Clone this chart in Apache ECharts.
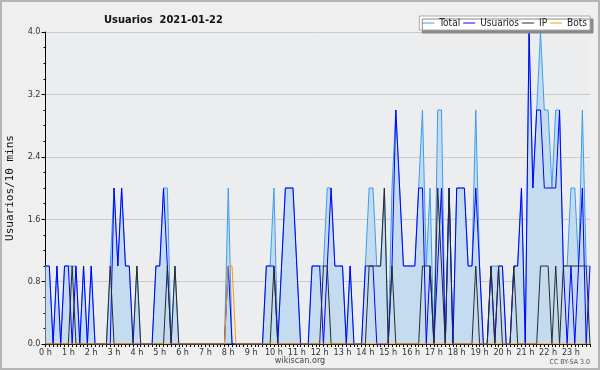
<!DOCTYPE html>
<html><head><meta charset="utf-8">
<script src="https://cdn.jsdelivr.net/npm/echarts@6/dist/echarts.min.js"></script>
<style>html,body{margin:0;padding:0;background:#efefef}#c{width:600px;height:370px}</style>
</head><body><div id="c"></div>
<script>
const hours = ["0 h","1 h","2 h","3 h","4 h","5 h","6 h","7 h","8 h","9 h","10 h","11 h","12 h","13 h","14 h","15 h","16 h","17 h","18 h","19 h","20 h","21 h","22 h","23 h"];
const yTicks = [0, 0.8, 1.6, 2.4, 3.2, 4.0];
const total = [
1,1,0,1,0,1,1,1,1,0,1,0,
1,0,0,0,0,1,2,1,2,1,1,0,
1,0,0,0,0,1,1,2,2,0,1,0,
0,0,0,0,0,0,0,0,0,0,0,0,
2,0,0,0,0,0,0,0,0,0,1,1,
2,0,1,2,2,2,1,0,0,0,1,1,
1,1,2,2,1,1,1,0,1,0,0,0,
1,2,2,1,1,2,0,2,3,2,1,1,
1,1,2,3,1,2,0,3,3,0,2,0,
2,2,2,1,1,3,1,0,0,1,1,1,
1,0,0,1,1,2,0,4,2,3,4,3,
3,2,3,3,1,1,2,2,1,3,1,1];
const usuarios = [
1,1,0,1,0,1,1,0,1,0,1,0,
1,0,0,0,0,0,2,1,2,1,1,0,
0,0,0,0,0,1,1,2,1,0,0,0,
0,0,0,0,0,0,0,0,0,0,0,0,
1,0,0,0,0,0,0,0,0,0,1,1,
1,0,1,2,2,2,1,0,0,0,1,1,
1,0,1,2,1,1,1,0,1,0,0,0,
1,1,1,0,0,0,0,1,3,2,1,1,
1,1,2,2,0,1,0,1,2,0,2,0,
2,2,2,1,1,2,1,0,0,1,0,1,
1,0,0,1,1,2,0,4,2,3,3,2,
2,2,2,3,1,0,1,0,1,2,0,1];
const ip = [
0,0,0,0,0,0,0,1,0,0,0,0,
0,0,0,0,0,1,0,0,0,0,0,0,
1,0,0,0,0,0,0,0,1,0,1,0,
0,0,0,0,0,0,0,0,0,0,0,0,
0,0,0,0,0,0,0,0,0,0,0,0,
1,0,0,0,0,0,0,0,0,0,0,0,
0,1,1,0,0,0,0,0,0,0,0,0,
0,1,1,1,1,2,0,1,0,0,0,0,
0,0,0,1,1,1,0,2,1,0,2,0,
0,0,0,0,0,1,0,0,0,1,0,1,
0,0,0,1,0,0,0,0,0,0,1,1,
1,0,1,0,1,1,1,1,1,1,1,0];
const bots = [
0,0,0,0,0,0,0,0,0,0,0,0,
0,0,0,0,0,0,0,0,0,0,0,0,
0,0,0,0,0,0,0,0,0,0,0,0,
0,0,0,0,0,0,0,0,0,0,0,0,
1,1,0,0,0,0,0,0,0,0,0,0,
0,0,0,0,0,0,0,0,0,0,0,0,
0,0,0,0,0,0,0,0,0,0,0,0,
0,0,0,0,0,0,0,0,0,0,0,0,
0,0,0,0,0,0,0,0,0,0,0,0,
0,0,0,0,0,0,0,0,0,0,0,0,
0,0,0,0,0,0,0,0,0,0,0,0,
0,0,0,0,0,0,0,0,0,0,0,0];

const slots = [];
hours.forEach((h, hi) => { for (let m = 0; m < 6; m++) slots.push(hi + ':' + m + '0'); });

const chart = echarts.init(document.getElementById('c'), null, {renderer: 'canvas'});
const COND = 'DejaVu Sans Condensed';
const lbl = {fontFamily: COND, fontSize: 9, color: '#333'};
function line(name, data, color, extra) {
  return Object.assign({
    name, type: 'line', data, symbol: 'none', smooth: false,
    lineStyle: {color, width: 1}, itemStyle: {color}, animation: false
  }, extra || {});
}
chart.setOption({
  backgroundColor: '#efefef',
  animation: false,
  title: {
    text: 'Usuarios  2021-01-22', left: 99, top: 10,
    textStyle: {fontFamily: COND, fontWeight: 'bold', fontSize: 11, color: '#111'}
  },
  legend: {
    right: 10, top: 16,
    data: ['Total', 'Usuarios', 'IP', 'Bots'],
    icon: 'rect', itemWidth: 12, itemHeight: 1, itemGap: 3,
    padding: [2, 3, 2, 3],
    backgroundColor: '#ffffff', borderColor: '#aaa', borderWidth: 1,
    shadowColor: '#888', shadowOffsetX: 3, shadowOffsetY: 3, shadowBlur: 0,
    textStyle: {fontFamily: COND, fontSize: 10, color: '#222'}
  },
  grid: {left: 45.5, right: 10, top: 32, bottom: 26, show: true, backgroundColor: '#ecedef', borderWidth: 0, outerBoundsMode: 'none', containLabel: false},
  xAxis: {
    type: 'category', data: slots, boundaryGap: false,
    axisLine: {lineStyle: {color: '#000', width: 1}},
    axisTick: {interval: 0, length: 3, lineStyle: {color: '#000'}},
    axisLabel: Object.assign({interval: 5, margin: 4, formatter: (v, i) => (i % 6 === 0 ? hours[i / 6] : '')}, lbl),
    splitLine: {show: false}
  },
  yAxis: {
    type: 'value', min: yTicks[0], max: yTicks[yTicks.length - 1], interval: yTicks[1] - yTicks[0],
    name: 'Usuarios/10 mins', nameLocation: 'middle', nameGap: 30, nameRotate: 90,
    nameTextStyle: {fontFamily: 'DejaVu Sans Mono', fontSize: 11, color: '#111'},
    axisLine: {show: true, lineStyle: {color: '#000', width: 1}},
    axisTick: {show: true, length: 4, lineStyle: {color: '#000'}},
    minorTick: {show: true, splitNumber: 4, length: 2, lineStyle: {color: '#000'}},
    axisLabel: Object.assign({margin: 5, formatter: v => v.toFixed(1)}, lbl),
    splitLine: {show: true, lineStyle: {color: '#cacaca', width: 1}}
  },
  graphic: [
    {type: 'rect', shape: {x: 1, y: 1, width: 598, height: 368}, style: {fill: 'none', stroke: '#b4b4b4', lineWidth: 2}, silent: true},
    {type: 'text', left: 'center', top: 356, style: {text: 'wikiscan.org', fontFamily: COND, fontSize: 9, fill: '#444'}},
    {type: 'text', right: 10, top: 359, style: {text: 'CC BY-SA 3.0', fontFamily: COND, fontSize: 7, fill: '#555'}}
  ],
  series: [
    line('Total', total, '#3c9cf0', {areaStyle: {color: '#c5dcf0', opacity: 1}}),
    line('Usuarios', usuarios, '#0000ff'),
    line('IP', ip, '#2a2a2a'),
    line('Bots', bots, '#ff9900')
  ]
});
</script></body></html>
